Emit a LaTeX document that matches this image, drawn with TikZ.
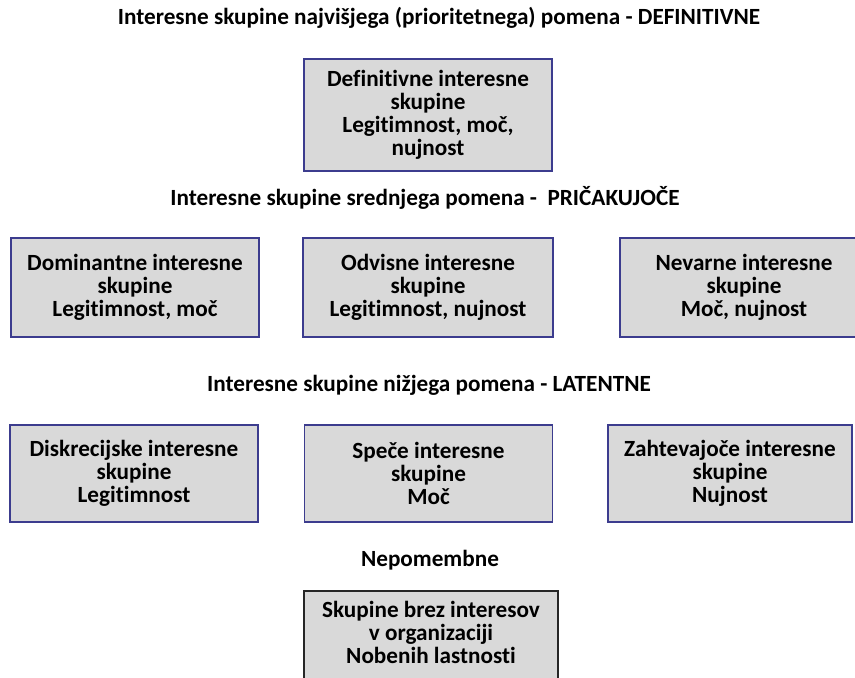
\documentclass[tikz,border=0pt]{standalone}
\usepackage{fontspec}
\setmainfont{Carlito}[Ligatures={NoCommon}]
\begin{document}
\begin{tikzpicture}[x=0.75pt,y=-0.75pt,
  every node/.style={font=\bfseries\fontsize{17.4}{17.4}\selectfont, inner sep=0pt},
  heading/.style={anchor=center},
  groupbox/.style={draw=boxline, line width=1.2pt, fill=boxfill, align=center,
    minimum width=#1*0.75pt},
  groupbox/.default=248
]
\definecolor{boxfill}{HTML}{D9D9D9}
\definecolor{boxline}{HTML}{3C3C8E}
\useasboundingbox (0,0) rectangle (855,677);
\clip (0,0) rectangle (855,677);

% headings
\node[heading] (h1) at (439,18) {Interesne skupine najvišjega (prioritetnega) pomena - DEFINITIVNE};
\node[heading] (h2) at (425,198) {Interesne skupine srednjega pomena -\ \ PRIČAKUJOČE};
\node[heading] (h3) at (429,385) {Interesne skupine nižjega pomena - LATENTNE};
\node[heading] (h4) at (430,560) {Nepomembne};

% top level
\node[groupbox, minimum height=112*0.75pt] (def) at (428,115)
  {Definitivne interesne\\skupine\\Legitimnost, moč,\\nujnost};

% middle level
\node[groupbox, minimum height=99*0.75pt] (dom) at (135,287.5)
  {Dominantne interesne\\skupine\\Legitimnost, moč};
\node[groupbox=250, minimum height=99*0.75pt] (odv) at (428,287.5)
  {Odvisne interesne\\skupine\\Legitimnost, nujnost};
\node[groupbox, minimum height=99*0.75pt] (nev) at (744,287.5)
  {Nevarne interesne\\skupine\\Moč, nujnost};

% lower level
\node[groupbox, minimum height=97*0.75pt] (dis) at (134,473.5)
  {Diskrecijske interesne\\skupine\\Legitimnost};
\node[groupbox, minimum height=97*0.75pt] (spe) at (428.5,473.5)
  {Speče interesne\\skupine\\Moč};
\node[groupbox=244, minimum height=97*0.75pt] (zah) at (730,473.5)
  {Zahtevajoče interesne\\skupine\\Nujnost};

% unimportant: the box runs on past the lower edge of the page
\node[groupbox=254, draw=black!85, inner ysep=7.5pt, anchor=north] (nep) at (431,590)
  {Skupine brez interesov\\v organizaciji\\Nobenih lastnosti\\\mbox{}};
\end{tikzpicture}
\end{document}
